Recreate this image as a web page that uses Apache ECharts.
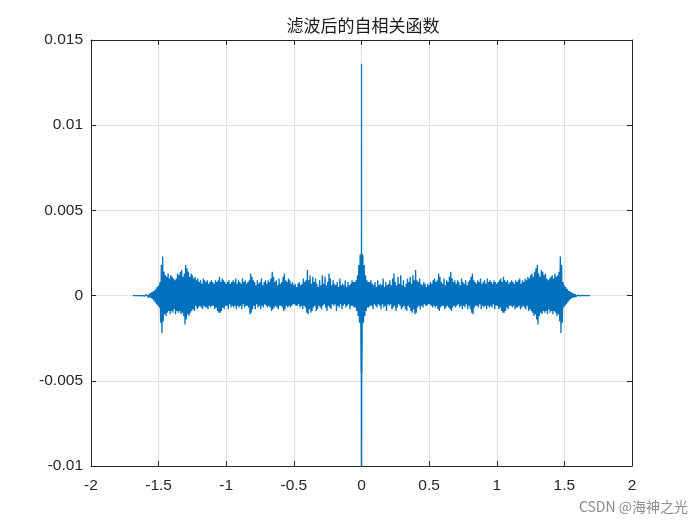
<!DOCTYPE html>
<html>
<head>
<meta charset="utf-8">
<script src="https://cdn.jsdelivr.net/npm/echarts@6/dist/echarts.min.js"></script>
<style>html,body{margin:0;padding:0;background:#fff;}#c{width:700px;height:525px;}</style>
</head>
<body>
<div id="c"></div>
<script>
// Title and axis tick labels
const chartTitle = '滤波后的自相关函数';
const xTicks = [-2, -1.5, -1, -0.5, 0, 0.5, 1, 1.5, 2];
const yTicks = [-0.01, -0.005, 0, 0.005, 0.01, 0.015];
const yTickLabels = ['-0.01', '-0.005', '0', '0.005', '0.01', '0.015'];
const watermark = 'CSDN @海神之光';

// Autocorrelation is symmetric about lag 0: only lags >= 0 are listed (values in units of 1e-4),
// read off the picture; the negative-lag half mirrors them.
const centerLags = [0, 0.001, 0.002, 0.003];
const centerValues = [136, -102, 25, -45];
// band values at lags 0.005, 0.010, ... 1.690
const bandStart = 0.005;
const bandStep = 0.005;
const bandValues = [
  -18, 24, -16, 18, -12, 12, -9, 9, -7,
  8, -7, 8, -6, 9, -6, 7, -8, 6, -5,
  8, -6, 5, -7, 9, -5, 6, -6, 7, -8,
  6, -5, 10, -7, 5, -6, 8, -9, 6, -5,
  7, -6, 9, -5, 6, -8, 10, -7, 13, -6,
  8, -9, 6, -7, 11, -5, 7, -6, 12, -8,
  6, -7, 9, -6, 5, -8, 7, -9, 10, -6,
  8, -7, 11, -9, 7, -10, 12, -8, 9, -11,
  15, -10, 9, -7, 8, -6, 10, -8, 7, -6,
  6, -7, 8, -5, 7, -6, 5, -6, 7, -5,
  6, -5, 8, -6, 7, -7, 9, -6, 10, -7,
  8, -6, 9, -8, 13, -9, 11, -7, 8, -6,
  7, -6, 10, -8, 6, -7, 9, -6, 8, -7,
  11, -8, 14, -9, 10, -7, 8, -6, 9, -7,
  7, -6, 9, -5, 8, -7, 6, -6, 10, -8,
  8, -6, 7, -7, 9, -5, 6, -8, 8, -6,
  9, -8, 11, -10, 13, -11, 9, -7, 8, -6,
  7, -6, 9, -7, 8, -5, 10, -8, 7, -6,
  8, -7, 9, -6, 7, -8, 10, -6, 8, -7,
  9, -6, 8, -7, 7, -5, 9, -8, 8, -6,
  7, -6, 8, -8, 9, -7, 10, -9, 8, -10,
  11, -10, 9, -9, 8, -7, 9, -8, 7, -6,
  8, -6, 9, -7, 8, -6, 7, -8, 9, -7,
  8, -7, 9, -6, 10, -8, 7, -7, 9, -6,
  8, -7, 10, -8, 9, -6, 11, -9, 10, -8,
  12, -9, 13, -10, 11, -12, 14, -11, 16, -14,
  18, -17, 13, -12, 11, -10, 15, -11, 14, -9,
  12, -10, 13, -9, 10, -11, 9, -8, 10, -10,
  11, -9, 12, -11, 10, -9, 13, -10, 11, -12,
  12, -11, 14, -15, 23, -22, 18, -16, 8, -7,
  6, -6, 5, -5, 4, -4, 3, -3, 2.5, -2,
  2, -1.5, 1.5, -1, 1, -1, 0.8, -0.6, 0.5, -0.5,
  0.3, -0.3, 0.2, -0.2, 0.1, -0.1, 0.1, -0.1, 0.05, -0.05,
  0.03, -0.03, 0.02, -0.02, 0.01, -0.01, 0, 0, 0
];
const valueUnit = 1e-4;

// positive-lag half as [lag, value]
const half = [];
for (let i = 0; i < centerLags.length; i++) half.push([centerLags[i], centerValues[i] * valueUnit]);
for (let k = 0; k < bandValues.length; k++) half.push([bandStart + k * bandStep, bandValues[k] * valueUnit]);

const data = [];
for (let i = half.length - 1; i >= 1; i--) data.push([-half[i][0], half[i][1]]);
for (let i = 0; i < half.length; i++) data.push(half[i]);

const axisColor = '#262626';
const labelFont = { color: axisColor, fontFamily: 'Liberation Sans, Arial, sans-serif', fontSize: 15.5 };

function yFmt(v) {
  for (let k = 0; k < yTicks.length; k++) {
    if (Math.abs(v - yTicks[k]) < 1e-9) return yTickLabels[k];
  }
  return '';
}

const chart = echarts.init(document.getElementById('c'), null, { renderer: 'canvas' });
chart.setOption({
  animation: false,
  backgroundColor: '#ffffff',
  grid: { left: 91, right: 68, top: 40, bottom: 59, containLabel: false },
  xAxis: [
    {
      type: 'value', min: xTicks[0], max: xTicks[xTicks.length - 1], interval: 0.5,
      position: 'bottom',
      axisLine: { show: true, onZero: false, lineStyle: { color: axisColor, width: 1 } },
      axisTick: { show: true, inside: true, length: 5, lineStyle: { color: axisColor } },
      axisLabel: Object.assign({ margin: 12, formatter: v => String(v) }, labelFont),
      splitLine: { show: true, lineStyle: { color: '#e0e0e0', width: 1 } }
    },
    {
      type: 'value', min: xTicks[0], max: xTicks[xTicks.length - 1], interval: 0.5,
      position: 'top',
      axisLine: { show: true, onZero: false, lineStyle: { color: axisColor, width: 1 } },
      axisTick: { show: true, inside: true, length: 5, lineStyle: { color: axisColor } },
      axisLabel: { show: false },
      splitLine: { show: false }
    }
  ],
  yAxis: [
    {
      type: 'value', min: yTicks[0], max: yTicks[yTicks.length - 1], interval: 0.005,
      position: 'left',
      axisLine: { show: true, onZero: false, lineStyle: { color: axisColor, width: 1 } },
      axisTick: { show: true, inside: true, length: 5, lineStyle: { color: axisColor } },
      axisLabel: Object.assign({ margin: 8, formatter: yFmt }, labelFont),
      splitLine: { show: true, lineStyle: { color: '#e0e0e0', width: 1 } }
    },
    {
      type: 'value', min: yTicks[0], max: yTicks[yTicks.length - 1], interval: 0.005,
      position: 'right',
      axisLine: { show: true, onZero: false, lineStyle: { color: axisColor, width: 1 } },
      axisTick: { show: true, inside: true, length: 5, lineStyle: { color: axisColor } },
      axisLabel: { show: false },
      splitLine: { show: false }
    }
  ],
  series: [{
    type: 'line',
    xAxisIndex: 0,
    yAxisIndex: 0,
    data: data,
    showSymbol: false,
    symbol: 'none',
    sampling: null,
    clip: true,
    lineStyle: { color: '#0072BD', width: 1.3 },
    z: 3
  }],
  graphic: [
    {
      type: 'text', x: 363, y: 26,
      style: {
        text: chartTitle, textAlign: 'center', textVerticalAlign: 'middle',
        fill: '#1a1a1a', fontSize: 17, fontFamily: 'Noto Sans CJK SC', fontWeight: 'normal'
      }
    },
    {
      type: 'text', x: 688, y: 507,
      style: {
        text: watermark, textAlign: 'right', textVerticalAlign: 'middle',
        fill: '#8c8c8c', fontSize: 14, fontFamily: 'Noto Sans CJK SC'
      }
    }
  ]
});
</script>
</body>
</html>
